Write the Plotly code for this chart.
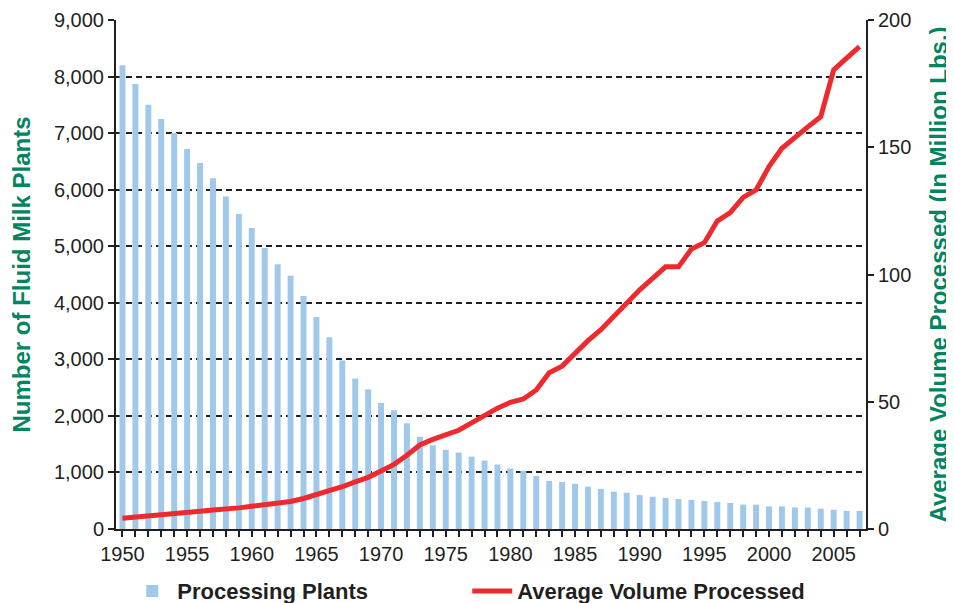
import plotly.graph_objects as go

years = list(range(1950, 2008))

plants = [8200, 7870, 7500, 7250, 7000, 6720, 6470, 6200, 5880, 5570,
          5320, 4970, 4680, 4480, 4120, 3750, 3390, 2980, 2660, 2470,
          2230, 2100, 1870, 1630, 1480, 1400, 1350, 1280, 1210, 1140,
          1070, 1030, 940, 850, 830, 800, 750, 710, 660, 640,
          600, 570, 550, 530, 515, 495, 480, 460, 430, 430,
          400, 400, 380, 380, 360, 340, 320, 320]

volume = [4.2, 4.6, 5.1, 5.5, 6.0, 6.5, 7.0, 7.5, 7.8, 8.3,
          8.9, 9.5, 10.1, 10.8, 12.0, 13.4, 15.0, 16.6, 18.5, 20.3,
          22.8, 25.4, 29.0, 33.0, 35.2, 36.8, 38.8, 41.7, 44.8, 47.5,
          49.8, 51.1, 54.6, 61.4, 64.0, 69.0, 74.0, 78.3, 83.5, 89.0,
          94.0, 98.5, 103.0, 103.0, 110.0, 112.5, 121.0, 124.3, 130.3, 133.2,
          142.4, 149.6, 154.1, 158.0, 162.0, 180.4, 185.0, 189.5]

left_ticks = list(range(0, 9001, 1000))
right_ticks = [0, 50, 100, 150, 200]

FONT = "Liberation Sans, Arial, sans-serif"
INK = "#231F20"
GREEN = "#00855F"
XR = [1949.5, 2007.5]

fig = go.Figure()
fig.add_trace(go.Bar(x=years, y=plants, name="Processing Plants",
                     marker=dict(color="#A0C8EB", line=dict(width=0)),
                     xaxis="x", yaxis="y"))
fig.add_trace(go.Scatter(x=years, y=volume, name="Average Volume Processed",
                         mode="lines", line=dict(color="#EE2A2F", width=5),
                         xaxis="x", yaxis="y2"))

tick_common = dict(tickcolor=INK, tickwidth=1.5, ticklen=6)

fig.update_layout(
    width=954, height=603,
    margin=dict(l=108, r=96, t=12, b=82, autoexpand=False),
    paper_bgcolor="white", plot_bgcolor="white",
    font=dict(family=FONT, color=INK, size=20),
    bargap=0.54,
    showlegend=True,
    legend=dict(orientation="h", x=0.015, y=-0.122, xanchor="left", yanchor="middle",
                font=dict(family=FONT, size=22, color=INK, weight="bold"),
                entrywidth=285, entrywidthmode="pixels",
                itemwidth=40, bgcolor="rgba(0,0,0,0)"),
    xaxis=dict(range=XR, tickmode="linear", tick0=1950, dtick=5,
               ticks="outside", showline=True, linecolor=INK, linewidth=2,
               showgrid=False, zeroline=False, automargin=False,
               minor=dict(dtick=1, tick0=1950, ticks="outside", ticklen=6,
                          tickwidth=1.5, tickcolor=INK, showgrid=False),
               tickfont=dict(size=20, color=INK), **tick_common),
    xaxis2=dict(range=XR, overlaying="x", anchor="y", side="bottom",
                tickmode="linear", tick0=1950, dtick=1, ticks="inside",
                showticklabels=False, showgrid=False, zeroline=False,
                showline=False, automargin=False, **tick_common),
    xaxis3=dict(range=XR, overlaying="x", anchor="y", side="top",
                showline=True, linecolor="#AAAAAA", linewidth=1, automargin=False,
                ticks="", showticklabels=False, showgrid=False, zeroline=False),
    yaxis=dict(range=[0, 9000], tickmode="array", tickvals=left_ticks,
               tickformat=",", ticks="outside", showline=True, linecolor=INK,
               linewidth=2, showgrid=True, gridcolor=INK, gridwidth=2,
               griddash="6px,4px", zeroline=False, automargin=False,
               tickfont=dict(size=20, color=INK),
               title=dict(text="Number of Fluid Milk Plants", standoff=18,
                          font=dict(family=FONT, size=24, color=GREEN, weight="bold")),
               **tick_common),
    yaxis2=dict(range=[0, 200], overlaying="y", side="right", anchor="x",
                tickmode="array", tickvals=right_ticks, ticks="outside",
                showline=True, linecolor=INK, linewidth=2, showgrid=False,
                zeroline=False, automargin=False, tickfont=dict(size=20, color=INK),
                title=dict(text="Average Volume Processed (In Million Lbs.)", standoff=20,
                           font=dict(family=FONT, size=24, color=GREEN, weight="bold")),
                **tick_common),
    yaxis3=dict(range=[0, 9000], overlaying="y", side="left", anchor="x",
                tickmode="array", tickvals=left_ticks, ticks="inside",
                showticklabels=False, showgrid=False, zeroline=False,
                showline=False, automargin=False, **tick_common),
    yaxis4=dict(range=[0, 200], overlaying="y", side="right", anchor="x",
                tickmode="array", tickvals=right_ticks, ticks="inside",
                showticklabels=False, showgrid=False, zeroline=False,
                showline=False, automargin=False, **tick_common),
)

fig.write_html("out.html")
